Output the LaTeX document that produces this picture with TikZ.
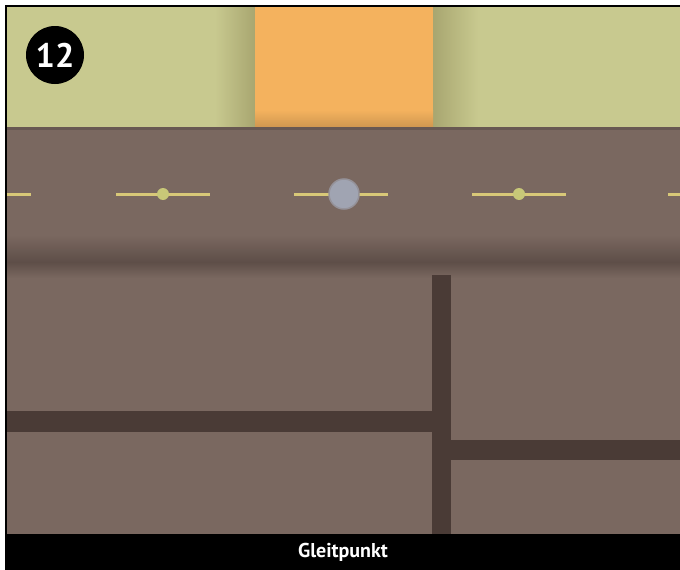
\documentclass[tikz,border=0pt]{standalone}
\usepackage{fontspec}
\setmainfont{PT Sans}
\definecolor{grass}{RGB}{200,201,143}
\definecolor{grassdark}{RGB}{168,166,112}
\definecolor{pavement}{RGB}{244,178,94}
\definecolor{road}{RGB}{122,104,96}
\definecolor{roaddark}{RGB}{94,78,72}
\definecolor{grout}{RGB}{74,59,54}
\definecolor{markline}{RGB}{216,200,120}
\definecolor{markdot}{RGB}{200,200,120}
\definecolor{glide}{RGB}{160,164,178}

\begin{document}
\begin{tikzpicture}[x=1pt,y=-1pt,
    markdash/.style={draw=markline, line width=3pt},
    markpoint/.style={circle, fill=markdot, inner sep=0pt, minimum size=12pt}]
\useasboundingbox (0,0) rectangle (680,570);
% frame and caption bar
\fill[black] (5,5) rectangle (680,570);
\begin{scope}
\clip (7,7) rectangle (680,534);
% grass with the paved strip
\fill[grass] (7,7) rectangle (680,127);
\shade[left color=grass, right color=grassdark] (215,7) rectangle (255,127);
\shade[left color=grassdark, right color=grass] (433,7) rectangle (478,127);
\fill[pavement] (255,7) rectangle (433,127);
\shade[top color=pavement, bottom color=pavement!85!black] (255,110) rectangle (433,127);
% road
\fill[road] (7,127) rectangle (680,534);
\fill[road!85!black] (7,127) rectangle (680,130);
\shade[top color=road, bottom color=roaddark] (7,235) rectangle (680,262);
\shade[top color=roaddark, bottom color=road] (7,262) rectangle (680,278);
% grout lines between the slabs
\fill[grout] (432,275) rectangle (451,534);
\fill[grout] (7,411) rectangle (432,432);
\fill[grout] (451,440) rectangle (680,460);
% centre marking
\foreach \x in {-16,163,341,519,715}
  \draw[markdash] (\x-47,194) -- (\x+47,194);
\node[markpoint] (dotleft) at (163,194) {};
\node[markpoint] (dotright) at (519,194) {};
\node[circle, fill=glide, draw=glide!70!road, line width=1.5pt, minimum size=30pt, inner sep=0pt] (glidepoint) at (344,194) {};
\end{scope}
% number badge
\node[circle, fill=black, minimum size=58pt, inner sep=0pt, text=white, font=\bfseries\fontsize{34}{34}\selectfont] (badge) at (55,55) {12};
\node[text=white, font=\bfseries\fontsize{20}{20}\selectfont] (caption) at (343,552) {Gleitpunkt};
\end{tikzpicture}
\end{document}
